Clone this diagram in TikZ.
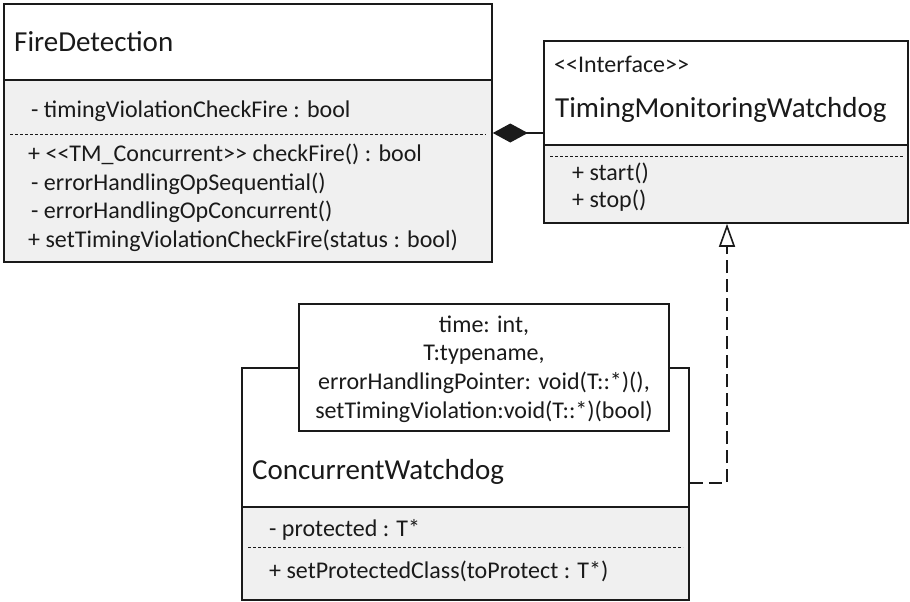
\documentclass[tikz,border=0pt]{standalone}
\usepackage{fontspec}
\setmainfont{Carlito}
\usetikzlibrary{arrows.meta}
\definecolor{umlline}{HTML}{1A1A1A}
\definecolor{umlfill}{HTML}{F0F0F0}
\tikzset{
  classbox/.style={draw=umlline, line width=1.6pt, rectangle, inner sep=0pt},
  sepline/.style={draw=umlline, line width=1.4pt},
  opsep/.style={draw=umlline, line width=0.9pt, dash pattern=on 3pt off 2pt},
  member/.style={anchor=base west, inner sep=0pt, font=\fontsize{24}{28.7}\selectfont, text=umlline},
  classname/.style={anchor=base west, inner sep=0pt, font=\fontsize{29}{34}\selectfont, text=umlline},
  tparam/.style={anchor=base, inner sep=0pt, font=\fontsize{24}{28.7}\selectfont, text=umlline},
  composition/.style={draw=umlline, line width=1.6pt, -{Diamond[length=35pt,width=19pt,fill=umlline]}},
  realization/.style={draw=umlline, line width=1.6pt, dash pattern=on 13pt off 6pt,
    -{Triangle[open,length=23pt,width=16pt,fill=white]}},
}
\begin{document}
\begin{tikzpicture}[x=1pt,y=-1pt]
\useasboundingbox (0,0) rectangle (910,602);

% ---------- FireDetection ----------
\fill[umlfill] (4,80) rectangle (492,262);
\node[classbox, minimum width=488pt, minimum height=258pt] (fd) at (248,133) {};
\draw[sepline] (4,80) -- (492,80);
\draw[opsep] (10,134) -- (486,134);
\node[classname] (fdname) at (14,52) {FireDetection};
\node[member] (fda1) at (31,117) {- timingViolationCheckFire : bool};
\node[member] (fdm1) at (28,161) {+ <{}<TM\_Concurrent>{}> checkFire() : bool};
\node[member] (fdm2) at (31,190) {- errorHandlingOpSequential()};
\node[member] (fdm3) at (31,218) {- errorHandlingOpConcurrent()};
\node[member] (fdm4) at (28,247) {+ setTimingViolationCheckFire(status : bool)};

% ---------- TimingMonitoringWatchdog ----------
\fill[umlfill] (544,145) rectangle (908,223);
\node[classbox, minimum width=364pt, minimum height=182pt] (tmw) at (726,132) {};
\draw[sepline] (544,145) -- (908,145);
\draw[opsep] (550,156) -- (903,156);
\node[member] (tmwst) at (554,73) {<{}<Interface>{}>};
\node[classname] (tmwname) at (555,117) {TimingMonitoringWatchdog};
\node[member] (tmwm1) at (572,180) {+ start()};
\node[member] (tmwm2) at (572,207) {+ stop()};

% ---------- ConcurrentWatchdog ----------
\fill[umlfill] (242,507) rectangle (689,600);
\node[classbox, minimum width=447pt, minimum height=232pt] (cw) at (465.5,484) {};
\draw[sepline] (242,507) -- (689,507);
\draw[opsep] (248,547) -- (683,547);
\node[classname] (cwname) at (252,479) {ConcurrentWatchdog};
\node[member] (cwa1) at (269,536) {- protected : T*};
\node[member] (cwm1) at (269,578) {+ setProtectedClass(toProtect : T*)};

% template parameters
\node[classbox, fill=white, minimum width=370pt, minimum height=127pt] (tpl) at (484,367.5) {};
\node[tparam] (tp1) at (484,332) {time: int,};
\node[tparam] (tp2) at (484,360) {T:typename,};
\node[tparam] (tp3) at (484,389) {errorHandlingPointer: void(T::*)(),};
\node[tparam] (tp4) at (484,418) {setTimingViolation:void(T::*)(bool)};

% ---------- relations ----------
\coordinate (compA) at (tmw.west |- 0,133);
\coordinate (compB) at (fd.east |- 0,133);
\draw[composition] (compA) -- (compB);

\coordinate (realA) at (cw.east |- 0,483);
\coordinate (realB) at (727,0 |- tmw.south);
\draw[realization] (realA) -| (realB);
\end{tikzpicture}
\end{document}
